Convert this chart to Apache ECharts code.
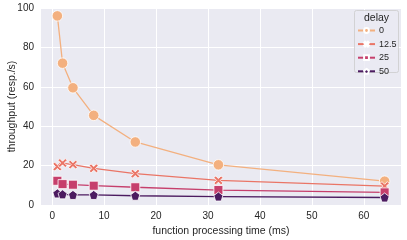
<!DOCTYPE html>
<html>
<head>
<meta charset="utf-8">
<script src="https://cdn.jsdelivr.net/npm/echarts@6/dist/echarts.min.js"></script>
<style>html,body{margin:0;padding:0;background:#fff}#c{width:407px;height:240px}</style>
</head>
<body>
<div id="c"></div>
<script>
const xValues = [1, 2, 4, 8, 16, 32, 64];
const delayNames = ['0', '12.5', '25', '50'];
const delay0 = [96, 72, 59.5, 45.5, 32, 20.4, 12.1];
const delay12_5 = [19.5, 21.3, 20.5, 18.6, 15.9, 12.5, 9.6];
const delay25 = [12.3, 10.6, 10.3, 9.8, 9.0, 7.6, 6.4];
const delay50 = [5.9, 5.4, 5.1, 5.1, 4.7, 4.3, 3.8];
const xTicks = [0, 10, 20, 30, 40, 50, 60];

const colors = ['#f3b07f', '#ea7566', '#c63f6c', '#4c1b60'];
const symbols = [
  'circle',
  'path://M-1,-0.6 L-0.6,-1 L0,-0.4 L0.6,-1 L1,-0.6 L0.4,0 L1,0.6 L0.6,1 L0,0.4 L-0.6,1 L-1,0.6 L-0.4,0 Z',
  'rect',
  'path://M0,-1 L0.951,-0.309 L0.588,0.809 L-0.588,0.809 L-0.951,-0.309 Z'
];
const sizes = [10.5, 9, 9, 9];
const allData = [delay0, delay12_5, delay25, delay50];

const font = 'Liberation Sans, Arial, sans-serif';
const chart = echarts.init(document.getElementById('c'), null, {renderer: 'canvas'});
const series = allData.map((vals, i) => ({
  name: delayNames[i],
  type: 'line',
  data: xValues.map((x, j) => [x, vals[j]]),
  symbol: symbols[i],
  symbolSize: sizes[i],
  showSymbol: true,
  z: 2 + i,
  lineStyle: {color: colors[i], width: 1.3},
  itemStyle: {color: colors[i], borderColor: '#ffffff', borderWidth: 0.8, opacity: 1},
  emphasis: {disabled: true},
  animation: false
}));

chart.setOption({
  animation: false,
  backgroundColor: '#ffffff',
  grid: {left: 41, right: 6, top: 8, bottom: 35, show: true, backgroundColor: '#eaeaf2', borderWidth: 0, outerBoundsMode: 'none', containLabel: false},
  xAxis: {
    type: 'value', min: -2.15, max: 67.15,
    name: 'function processing time (ms)', nameLocation: 'middle', nameGap: 18,
    nameTextStyle: {fontFamily: font, fontSize: 10.5, color: '#262626'},
    axisLine: {show: false}, axisTick: {show: false, customValues: xTicks},
    axisLabel: {customValues: xTicks, fontFamily: font, fontSize: 10, color: '#262626', margin: 6},
    splitLine: {show: true, lineStyle: {color: '#ffffff', width: 1}}
  },
  yAxis: {
    type: 'value', min: 0, max: 100, interval: 20,
    axisLine: {show: false}, axisTick: {show: false},
    axisLabel: {fontFamily: font, fontSize: 10, color: '#262626', margin: 7},
    splitLine: {show: true, lineStyle: {color: '#ffffff', width: 1}}
  },
  legend: {
    orient: 'vertical', left: 357, top: 26, z: 20,
    itemWidth: 17, itemHeight: 6, itemGap: 4.6,
    data: delayNames,
    textStyle: {fontFamily: font, fontSize: 9, color: '#262626', padding: [0, 0, 0, -1]},
    padding: 0
  },
  graphic: [
    {type: 'rect', shape: {x: 354.5, y: 10.5, width: 44, height: 62, r: 2}, style: {fill: 'rgba(234,234,242,0.8)', stroke: '#cccccc', lineWidth: 0.8}, z: 1, silent: true},
    {type: 'text', left: 364, top: 13, style: {text: 'delay', fontFamily: font, fontSize: 10.5, fill: '#262626'}, z: 21, silent: true},
    {type: 'text', x: 12, y: 106.5, rotation: Math.PI / 2, style: {text: 'throughput (resp./s)', fontFamily: font, fontSize: 10.5, fill: '#262626', align: 'center', verticalAlign: 'middle'}, z: 21, silent: true}
  ],
  series: series
});
</script>
</body>
</html>
